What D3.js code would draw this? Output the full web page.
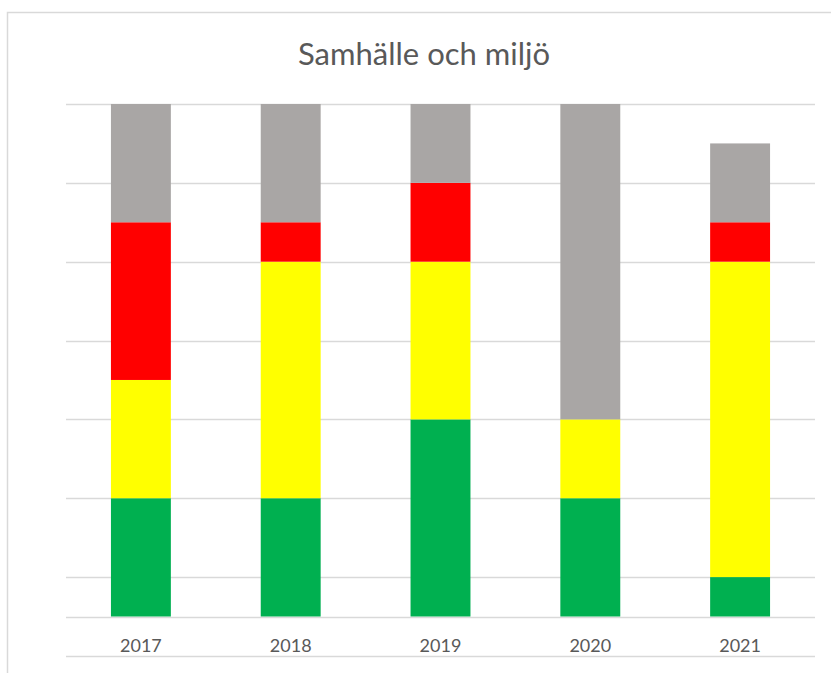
<!DOCTYPE html>
<html>
<head>
<meta charset="utf-8">
<script src="https://cdn.jsdelivr.net/npm/d3@7"></script>
<style>
  body { margin: 0; background: #fff; }
  svg { display: block; }
</style>
</head>
<body>
<div id="chart"></div>
<script>
const years = ["2017", "2018", "2019", "2020", "2021"];
const keys = ["green", "yellow", "red", "gray"];
const green = [3, 3, 5, 3, 1];
const yellow = [3, 6, 4, 2, 8];
const red = [4, 1, 2, 0, 1];
const gray = [3, 3, 2, 8, 2];
const gridValues = [-1, 1, 3, 5, 7, 9, 11, 13];

const colors = {green: "#00b050", yellow: "#ffff00", red: "#ff0000", gray: "#a9a6a5"};

const width = 831, height = 673;
const margin = {left: 66, right: 16};

const table = years.map((y, i) => ({year: y, green: green[i], yellow: yellow[i], red: red[i], gray: gray[i]}));
const series = d3.stack().keys(keys)(table);

const x = d3.scaleBand()
    .domain(years)
    .range([margin.left, width - margin.right])
    .paddingInner(0.6)
    .paddingOuter(0.3);

const y = d3.scaleLinear()
    .domain([0, 13])
    .range([616.5, 104]);

const svg = d3.select("#chart").append("svg")
    .attr("width", width)
    .attr("height", height);

// chart area frame (top and left edges visible)
svg.append("path")
    .attr("d", `M7.5,${height} V12.5 H${width}`)
    .attr("fill", "none")
    .attr("stroke", "#d9d9d9")
    .attr("stroke-width", 1.5);

svg.append("text")
    .attr("x", 424)
    .attr("y", 65)
    .attr("text-anchor", "middle")
    .attr("font-family", "Lato, 'Open Sans', sans-serif")
    .attr("font-size", 31)
    .attr("fill", "#595959")
    .text("Samhälle och miljö");

// gridlines
svg.append("g")
    .attr("stroke", "#d9d9d9")
    .attr("stroke-width", 1.5)
  .selectAll("line")
  .data(gridValues.concat([0]))
  .join("line")
    .attr("x1", margin.left)
    .attr("x2", width - margin.right)
    .attr("y1", d => Math.round(y(d)) + 0.5)
    .attr("y2", d => Math.round(y(d)) + 0.5);

svg.append("g")
  .selectAll("g")
  .data(series)
  .join("g")
    .attr("fill", d => colors[d.key])
  .selectAll("rect")
  .data(d => d)
  .join("rect")
    .attr("x", d => x(d.data.year))
    .attr("width", x.bandwidth())
    .attr("y", d => y(d[1]))
    .attr("height", d => y(d[0]) - y(d[1]));

// category labels
svg.append("g")
    .attr("font-family", "Lato, 'Open Sans', sans-serif")
    .attr("font-size", 18)
    .attr("fill", "#595959")
    .attr("text-anchor", "middle")
  .selectAll("text")
  .data(years)
  .join("text")
    .attr("x", d => x(d) + x.bandwidth() / 2)
    .attr("y", 652)
    .text(d => d);
</script>
</body>
</html>
